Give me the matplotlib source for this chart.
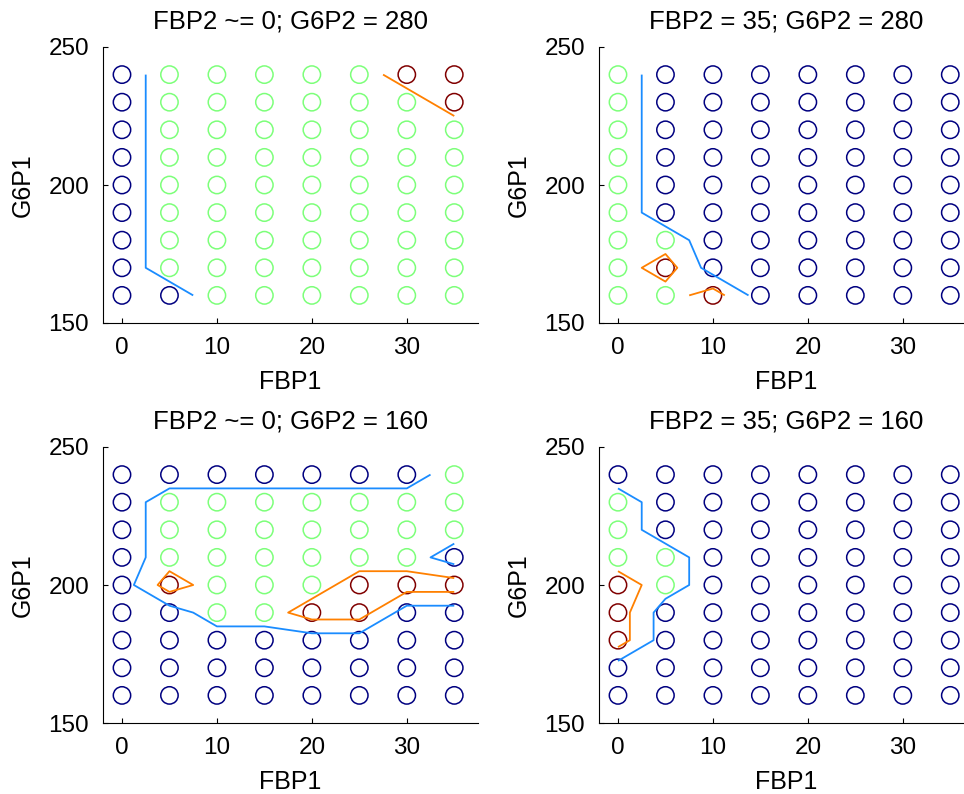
import numpy as np
import matplotlib.pyplot as plt

plt.rcParams['font.family'] = ['Liberation Sans', 'DejaVu Sans']

fbp1 = [0, 5, 10, 15, 20, 25, 30, 35]
g6p1 = [240, 230, 220, 210, 200, 190, 180, 170, 160]  # rows, top to bottom

# class at each grid point: 1 = blue, 2 = green, 3 = red
classes_tl = [
    [1, 2, 2, 2, 2, 2, 3, 3],
    [1, 2, 2, 2, 2, 2, 2, 3],
    [1, 2, 2, 2, 2, 2, 2, 2],
    [1, 2, 2, 2, 2, 2, 2, 2],
    [1, 2, 2, 2, 2, 2, 2, 2],
    [1, 2, 2, 2, 2, 2, 2, 2],
    [1, 2, 2, 2, 2, 2, 2, 2],
    [1, 2, 2, 2, 2, 2, 2, 2],
    [1, 1, 2, 2, 2, 2, 2, 2],
]
classes_tr = [
    [2, 1, 1, 1, 1, 1, 1, 1],
    [2, 1, 1, 1, 1, 1, 1, 1],
    [2, 1, 1, 1, 1, 1, 1, 1],
    [2, 1, 1, 1, 1, 1, 1, 1],
    [2, 1, 1, 1, 1, 1, 1, 1],
    [2, 1, 1, 1, 1, 1, 1, 1],
    [2, 2, 1, 1, 1, 1, 1, 1],
    [2, 3, 1, 1, 1, 1, 1, 1],
    [2, 2, 3, 1, 1, 1, 1, 1],
]
classes_bl = [
    [1, 1, 1, 1, 1, 1, 1, 2],
    [1, 2, 2, 2, 2, 2, 2, 2],
    [1, 2, 2, 2, 2, 2, 2, 2],
    [1, 2, 2, 2, 2, 2, 2, 1],
    [1, 3, 2, 2, 2, 3, 3, 3],
    [1, 1, 2, 2, 3, 3, 1, 1],
    [1, 1, 1, 1, 1, 1, 1, 1],
    [1, 1, 1, 1, 1, 1, 1, 1],
    [1, 1, 1, 1, 1, 1, 1, 1],
]
classes_br = [
    [1, 1, 1, 1, 1, 1, 1, 1],
    [2, 1, 1, 1, 1, 1, 1, 1],
    [2, 1, 1, 1, 1, 1, 1, 1],
    [2, 2, 1, 1, 1, 1, 1, 1],
    [3, 2, 1, 1, 1, 1, 1, 1],
    [3, 1, 1, 1, 1, 1, 1, 1],
    [3, 1, 1, 1, 1, 1, 1, 1],
    [1, 1, 1, 1, 1, 1, 1, 1],
    [1, 1, 1, 1, 1, 1, 1, 1],
]

titles = ["FBP2 ~= 0; G6P2 = 280", "FBP2 = 35; G6P2 = 280",
          "FBP2 ~= 0; G6P2 = 160", "FBP2 = 35; G6P2 = 160"]
panels = [classes_tl, classes_tr, classes_bl, classes_br]

# axes boxes in figure fraction (left, bottom)
W, H = 375 / 964, 276 / 794
corners = [(103 / 964, 471 / 794), (599 / 964, 471 / 794),
           (103 / 964, 71 / 794), (599 / 964, 71 / 794)]

cmap = plt.get_cmap('jet')
norm = plt.Normalize(1, 3)
X, Y = np.meshgrid(fbp1, g6p1)

fig = plt.figure(figsize=(9.64, 7.94), dpi=100)

for (left, bottom), title, cl in zip(corners, titles, panels):
    ax = fig.add_axes([left, bottom, W, H])
    Z = np.array(cl, dtype=float)
    ax.scatter(X.ravel(), Y.ravel(), s=12.5**2, facecolors='none',
               edgecolors=cmap(norm(Z.ravel())), linewidths=1.1)
    # boundaries between the classes (levels 1.5 and 2.5)
    ax.contour(X, Y, Z, levels=[1.5, 2.5], colors=['#1a8cff', '#ff8000'],
               linewidths=1.3)

    ax.set_xlim(-2, 37.5)
    ax.set_ylim(150, 250)
    ax.set_xticks([0, 10, 20, 30])
    ax.set_yticks([150, 200, 250])
    ax.spines['top'].set_visible(False)
    ax.spines['right'].set_visible(False)
    ax.tick_params(direction='in', length=3.5, width=0.8, labelsize=17.5, pad=10)
    ax.set_title(title, fontsize=18.5, pad=13)
    ax.set_xlabel("FBP1", fontsize=18, labelpad=8)
    ax.set_ylabel("G6P1", fontsize=18, labelpad=10)

plt.savefig("out.png", dpi=100)
